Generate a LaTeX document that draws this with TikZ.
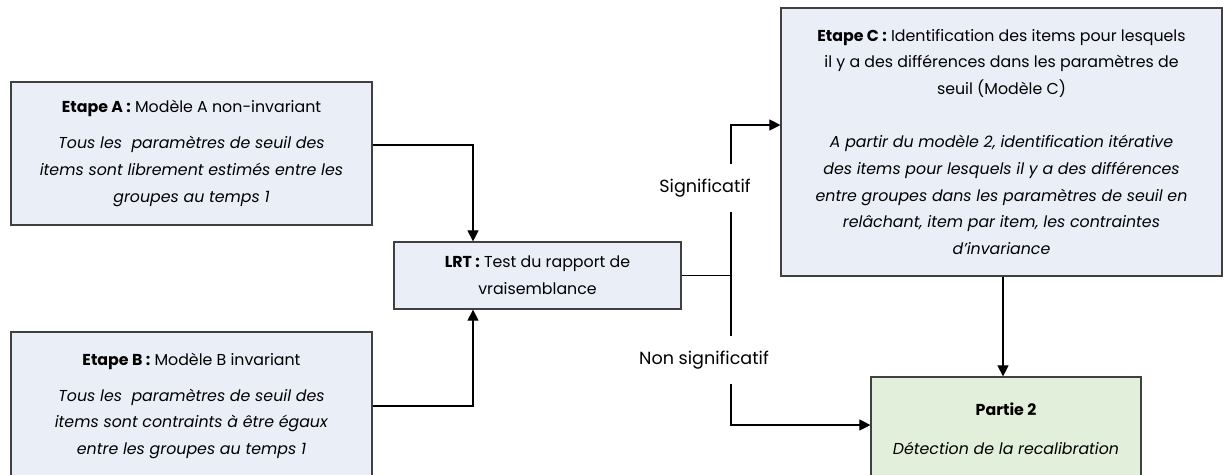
\documentclass[tikz,border=0pt]{standalone}
\usepackage{fontspec}
\setmainfont{Poppins}
\usetikzlibrary{arrows.meta,positioning,calc}
\definecolor{boxblue}{HTML}{EAEFF7}
\definecolor{boxgreen}{HTML}{E2EFDA}
\definecolor{boxline}{HTML}{404040}

\begin{document}
\begin{tikzpicture}[x=0.02cm,y=-0.02cm,>={Triangle[length=0.22cm,width=0.22cm]},
    every node/.style={font=\fontsize{9}{15.2}\selectfont,align=center,inner sep=0pt},
    etape/.style={draw=boxline,fill=boxblue,line width=0.7pt},
    partie/.style={draw=boxline,fill=boxgreen,line width=0.7pt},
    lbl/.style={fill=white,font=\fontsize{10}{12}\selectfont,inner xsep=2pt,inner ysep=0.29cm},
    lien/.style={->,line width=0.6pt}]
    \useasboundingbox[fill=white] (0,0) rectangle (1223,474);
    \node[etape,minimum width=7.22cm,minimum height=2.86cm] (etapeA) at (191.5,153.5)
        {\textbf{Etape A :} Modèle A non-invariant\\[0.18cm]
         \textit{Tous les~ paramètres de seuil des}\\
         \textit{items sont librement estimés entre les}\\
         \textit{groupes au temps 1}};
    \node[etape,minimum width=7.22cm,minimum height=2.96cm] (etapeB) at (191.5,406)
        {\textbf{Etape B :} Modèle B invariant\\[0.18cm]
         \textit{Tous les~ paramètres de seuil des}\\
         \textit{items sont contraints à être égaux}\\
         \textit{entre les groupes au temps 1}};
    \node[etape,minimum width=5.74cm,minimum height=1.34cm] (lrt) at (537.5,275.5)
        {\textbf{LRT :} Test du rapport de\\ vraisemblance};
    \node[etape,minimum width=8.82cm,minimum height=5.36cm] (etapeC) at (1001.5,142)
        {\textbf{Etape C :} Identification des items pour lesquels\\
         il y a des différences dans les paramètres de\\
         seuil (Modèle C)\\[0.53cm]
         \textit{A partir du modèle 2, identification itérative}\\
         \textit{des items pour lesquels il y a des différences}\\
         \textit{entre groupes dans les paramètres de seuil en}\\
         \textit{relâchant, item par item, les contraintes}\\
         \textit{d’invariance}};
    \node[partie,minimum width=5.4cm,minimum height=2.06cm] (partie) at (1006,428.5)
        {\textbf{Partie 2}\\[0.24cm]
         \textit{Détection de la recalibration}};

    \coordinate (j) at (731,275.5);
    \draw[lien] ([yshift=0.17cm]etapeA.east) -| ([xshift=-1.29cm]lrt.north);
    \draw[lien] (etapeB.east) -| ([xshift=-1.29cm]lrt.north |- lrt.south);
    \draw[line width=0.6pt] (lrt.east) -- (j);
    \draw[lien] (j) |- ([yshift=0.34cm]etapeC.west);
    \draw[lien] (j) |- ([yshift=0.07cm]partie.west);
    \draw[lien] (etapeC.south -| 1003,0) -- (partie.north -| 1003,0);
    \node[lbl] (sig) at (705,188) {Significatif};
    \node[lbl] (nonsig) at (704,360) {Non significatif};
\end{tikzpicture}
\end{document}
